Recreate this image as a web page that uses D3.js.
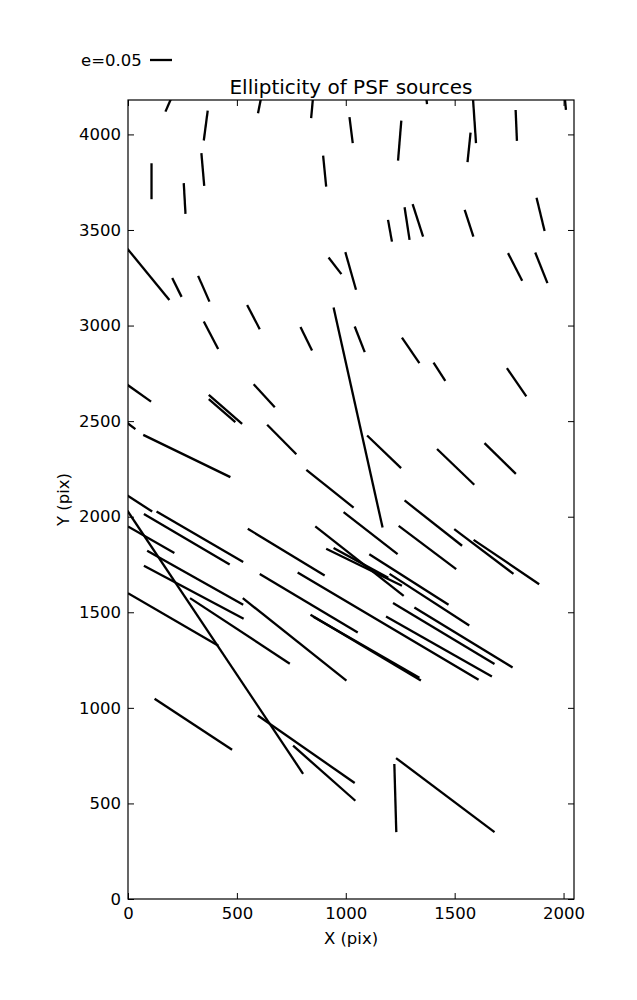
<!DOCTYPE html>
<html><head><meta charset="utf-8">
<script src="https://cdn.jsdelivr.net/npm/d3@7"></script>
<style>body{margin:0;background:#fff}</style>
</head><body>
<svg id="chart" width="637" height="1000"></svg>
<script>
// Whisker endpoints (pixel coordinates of detector, X and Y)
const startX = [172,348,108,337,256,597,841,896,1017,1255,1370,1584,1573,1780,2006,1194,1270,1307,1546,1876,1745,1870,921,998,-5,203,322,547,348,792,944,1041,1258,1403,1740,-3,371,371,577,-3,70,639,819,1098,1419,1637,-3,131,73,-5,0,550,860,990,1270,1243,1498,1587,910,944,88,73,0,285,527,605,1108,1201,779,838,851,1217,1315,1185,122,596,758,1223,1231];
const startY = [4119,3968,3849,3902,3745,4111,4085,3889,4090,4072,4190,4190,4009,4128,4190,3553,3619,3635,3605,3669,3379,3382,3356,3384,3405,3249,3260,3108,3021,2992,3094,2995,2937,2806,2777,2690,2637,2615,2693,2490,2428,2481,2245,2425,2354,2385,2111,2027,2014,2035,1949,1937,1949,2024,2085,1952,1935,1879,1832,1836,1822,1743,1600,1574,1574,1700,1804,1701,1708,1487,1476,1548,1525,1478,1048,960,802,706,737];
const endX = [197,366,108,350,264,610,849,910,1032,1240,1373,1598,1559,1786,2011,1212,1293,1355,1586,1913,1810,1926,980,1047,190,246,374,605,414,845,1169,1087,1338,1457,1829,106,524,493,674,34,470,773,1036,1254,1590,1781,111,529,467,804,213,903,1266,1238,1534,1507,1770,1888,1258,1195,529,531,415,743,1003,1055,1472,1567,1610,1345,1338,1683,1766,1671,478,1041,1044,1232,1683];
const endY = [4185,4124,3661,3731,3584,4185,4185,3727,3954,3863,4159,3954,3855,3966,4128,3439,3448,3465,3465,3495,3234,3222,3269,3187,3134,3150,3125,2981,2877,2869,1943,2861,2803,2711,2629,2602,2486,2495,2573,2458,2207,2327,2048,2254,2167,2224,2027,1763,1750,655,1810,1692,1586,1804,1848,1726,1701,1647,1639,1680,1539,1466,1325,1231,1142,1394,1539,1431,1147,1143,1158,1229,1211,1164,781,607,514,350,350];

const xTicks = [0, 500, 1000, 1500, 2000];
const yTicks = [0, 500, 1000, 1500, 2000, 2500, 3000, 3500, 4000];
const xDomain = [0, 2048];
const yDomain = [0, 4180];
const legendE = 0.05;
const titleText = "Ellipticity of PSF sources";
const xLabel = "X (pix)";
const yLabel = "Y (pix)";

const svg = d3.select("#chart");
const L = 128, R = 574, T = 100, B = 899;
const x = d3.scaleLinear().domain(xDomain).range([L, R]);
const y = d3.scaleLinear().domain(yDomain).range([B, T]);
const font = "'DejaVu Sans', sans-serif";

svg.append("rect").attr("width",637).attr("height",1000).attr("fill","#fff");

svg.append("defs").append("clipPath").attr("id","clip")
  .append("rect").attr("x",L).attr("y",T).attr("width",R-L).attr("height",B-T);

const segs = startX.map((d,i)=>({x1:d,y1:startY[i],x2:endX[i],y2:endY[i]}));
svg.append("g").attr("clip-path","url(#clip)")
  .selectAll("line").data(segs).join("line")
  .attr("x1",d=>x(d.x1)).attr("y1",d=>y(d.y1))
  .attr("x2",d=>x(d.x2)).attr("y2",d=>y(d.y2))
  .attr("stroke","#000").attr("stroke-width",2.3).attr("stroke-linecap","butt");

function styleAxis(g){
  g.selectAll("path").remove();
  g.selectAll("line").attr("stroke","#000").attr("stroke-width",1);
  g.selectAll("text").attr("font-family",font).attr("font-size","16.5px").attr("fill","#000");
}
svg.append("g").attr("transform",`translate(0,${B})`)
  .call(d3.axisBottom(x).tickValues(xTicks).tickSize(-6).tickPadding(8).tickFormat(d3.format("d")))
  .call(styleAxis);
svg.append("g").attr("transform",`translate(0,${T})`)
  .call(d3.axisTop(x).tickValues(xTicks).tickSize(-6).tickFormat(""))
  .call(styleAxis);
svg.append("g").attr("transform",`translate(${L},0)`)
  .call(d3.axisLeft(y).tickValues(yTicks).tickSize(-6).tickPadding(7).tickFormat(d3.format("d")))
  .call(styleAxis);
svg.append("g").attr("transform",`translate(${R},0)`)
  .call(d3.axisRight(y).tickValues(yTicks).tickSize(-6).tickFormat(""))
  .call(styleAxis);

svg.append("rect").attr("x",L).attr("y",T).attr("width",R-L).attr("height",B-T)
  .attr("fill","none").attr("stroke","#000").attr("stroke-width",1.2);

svg.append("text").attr("x",(L+R)/2).attr("y",94).attr("text-anchor","middle")
  .attr("font-family",font).attr("font-size","20px").text(titleText);
svg.append("text").attr("x",(L+R)/2).attr("y",944).attr("text-anchor","middle")
  .attr("font-family",font).attr("font-size","16.5px").text(xLabel);
svg.append("text").attr("transform",`translate(69,${(T+B)/2}) rotate(-90)`).attr("text-anchor","middle")
  .attr("font-family",font).attr("font-size","16.5px").text(yLabel);

// legend
svg.append("text").attr("x",81).attr("y",66).attr("font-family",font).attr("font-size","16.5px").text("e=" + legendE.toFixed(2));
svg.append("line").attr("x1",150).attr("x2",172).attr("y1",60).attr("y2",60)
  .attr("stroke","#000").attr("stroke-width",2.3);
</script>
</body></html>
